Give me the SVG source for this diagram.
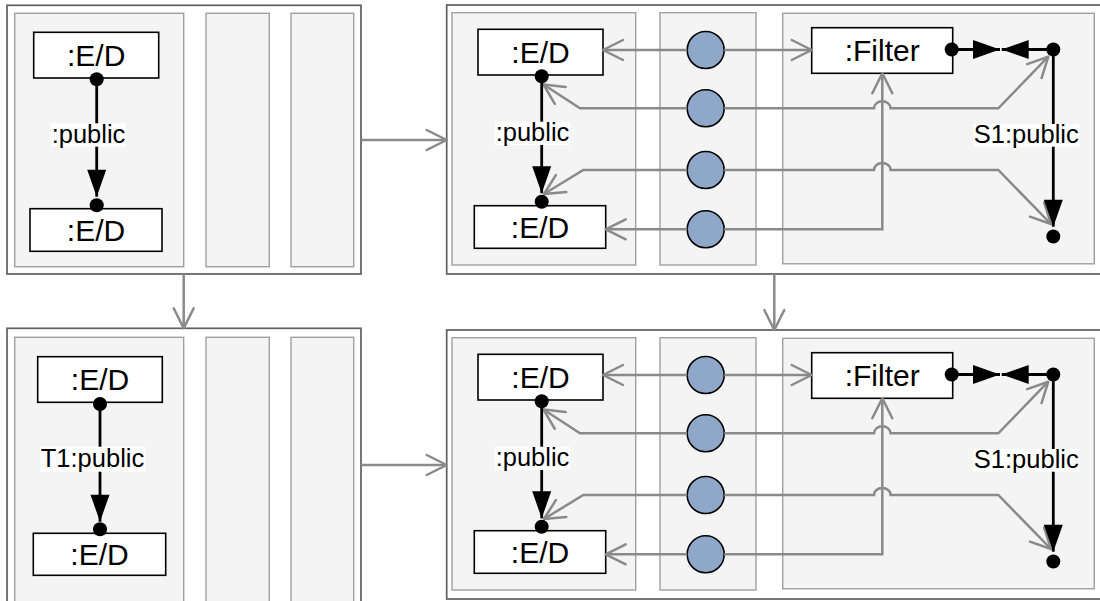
<svg xmlns="http://www.w3.org/2000/svg" width="1100" height="601" viewBox="0 0 1100 601">
<style>
.outer{fill:#ffffff;stroke:#5f5f5f;stroke-width:1.7}
.inner{fill:#f4f4f4;stroke:#a0a0a0;stroke-width:1.4}
.box{fill:#ffffff;stroke:#000000;stroke-width:1.6}
.port{fill:#8fa7c8;stroke:#000000;stroke-width:1.6}
.big{font-family:"Liberation Sans",Arial,Helvetica,sans-serif;font-size:30px;fill:#000;text-anchor:middle}
.lbl{font-family:"Liberation Sans",Arial,Helvetica,sans-serif;font-size:25.5px;fill:#000;text-anchor:middle}
.lblbg{fill:#ffffff}
.grey{fill:none;stroke:#8a8a8a;stroke-width:2.5;marker-end:url(#open)}
.link{fill:none;stroke:#8a8a8a;stroke-width:2.5;marker-end:url(#open)}
.blk{fill:none;stroke:#000000;stroke-width:2.8;marker-end:url(#tri)}
.dot{fill:#000000}
</style>
<defs>
<marker id="open" markerUnits="userSpaceOnUse" markerWidth="30" markerHeight="30" viewBox="-25 -15 30 30" refX="0" refY="0" orient="auto" overflow="visible">
<path d="M-20,-10 L0,0 L-20,10" fill="none" stroke="#8a8a8a" stroke-width="2.5" stroke-linejoin="round" stroke-linecap="round"/>
</marker>
<marker id="tri" markerUnits="userSpaceOnUse" markerWidth="32" markerHeight="24" viewBox="-30 -12 32 24" refX="0" refY="0" orient="auto" overflow="visible">
<path d="M-27,-9.5 L0,0 L-27,9.5 Z" fill="#000000"/>
</marker>
</defs>

<!-- Top-left panel -->
<g id="panel-tl">
<rect class="outer" x="7" y="5.3" width="354" height="268.7"/>
<rect class="inner" x="14.7" y="13.3" width="169" height="253.4"/>
<rect class="inner" x="206" y="13.3" width="63.3" height="253.4"/>
<rect class="inner" x="291" y="13.3" width="62.7" height="253.4"/>
</g>
<g id="tl-ed-top"><rect class="box" x="33.7" y="32.3" width="125" height="45.7"/><text class="big" x="96.2" y="65.8">:E/D</text></g>
<g id="tl-ed-bottom"><rect class="box" x="30" y="208.7" width="132" height="42.6"/><text class="big" x="96" y="240.7">:E/D</text></g>

<!-- Bottom-left panel -->
<g id="panel-bl">
<rect class="outer" x="7" y="328.3" width="354" height="290"/>
<rect class="inner" x="14.7" y="337.3" width="169" height="280"/>
<rect class="inner" x="206" y="337.3" width="63.3" height="280"/>
<rect class="inner" x="291" y="337.3" width="62.7" height="280"/>
</g>
<g id="bl-ed-top"><rect class="box" x="37.7" y="356.7" width="124.6" height="45.6"/><text class="big" x="100" y="390.1">:E/D</text></g>
<g id="bl-ed-bottom"><rect class="box" x="33.3" y="533.3" width="132.4" height="42"/><text class="big" x="99.5" y="565">:E/D</text></g>

<!-- Top-right panel -->
<g id="panel-tr">
<rect class="outer" x="446.7" y="5" width="670" height="269"/>
<rect class="inner" x="452" y="12.7" width="183.7" height="252.3"/>
<rect class="inner" x="660" y="12.7" width="96" height="252.3"/>
<rect class="inner" x="782.7" y="13.3" width="311.6" height="250.5"/>
</g>
<g id="tr-ed-top"><rect class="box" x="478" y="29.3" width="125" height="45.7"/><text class="big" x="540.5" y="62.8">:E/D</text></g>
<g id="tr-ed-bottom"><rect class="box" x="474.3" y="205.7" width="131.4" height="42.6"/><text class="big" x="540" y="237.6">:E/D</text></g>
<g id="tr-filter"><rect class="box" x="811.7" y="27.7" width="141" height="45.6"/><text class="big" x="882.2" y="61">:Filter</text></g>
<g id="tr-port1"><circle class="port" cx="705.7" cy="50" r="18.5"/></g>
<g id="tr-port2"><circle class="port" cx="705.7" cy="108.3" r="18.5"/></g>
<g id="tr-port3"><circle class="port" cx="705.7" cy="170" r="18.5"/></g>
<g id="tr-port4"><circle class="port" cx="705.7" cy="229.3" r="18.5"/></g>

<!-- Bottom-right panel -->
<g id="panel-br">
<rect class="outer" x="446.7" y="330" width="670" height="269"/>
<rect class="inner" x="452" y="337.7" width="183.7" height="252.3"/>
<rect class="inner" x="660" y="337.7" width="96" height="252.3"/>
<rect class="inner" x="782.7" y="338.3" width="311.6" height="250.5"/>
</g>
<g id="br-ed-top"><rect class="box" x="478" y="354.3" width="125" height="45.7"/><text class="big" x="540.5" y="387.8">:E/D</text></g>
<g id="br-ed-bottom"><rect class="box" x="474.3" y="530.7" width="131.4" height="42.6"/><text class="big" x="540" y="562.6">:E/D</text></g>
<g id="br-filter"><rect class="box" x="811.7" y="352.7" width="141" height="45.6"/><text class="big" x="882.2" y="386">:Filter</text></g>
<g id="br-port1"><circle class="port" cx="705.7" cy="375" r="18.5"/></g>
<g id="br-port2"><circle class="port" cx="705.7" cy="433.3" r="18.5"/></g>
<g id="br-port3"><circle class="port" cx="705.7" cy="495" r="18.5"/></g>
<g id="br-port4"><circle class="port" cx="705.7" cy="554.3" r="18.5"/></g>

<g id="connectors">
<!-- panel transitions -->
<path class="link" d="M361,140 L446.7,140"/>
<path class="link" d="M361,465 L446.7,465"/>
<path class="link" d="M183.7,274 L183.7,328.3"/>
<path class="link" d="M774.3,274 L774.3,330"/>

<!-- top-left -->
<path class="blk" d="M96.7,79.3 L96.7,196.7"/>
<circle class="dot" cx="96.7" cy="79.3" r="7"/>
<circle class="dot" cx="96.7" cy="205.3" r="7"/>
<rect class="lblbg" x="51" y="123.3" width="75" height="23.4"/>
<text class="lbl" x="88.5" y="142.6">:public</text>

<!-- bottom-left -->
<path class="blk" d="M100,404 L100,521.7"/>
<circle class="dot" cx="100" cy="404" r="7"/>
<circle class="dot" cx="100" cy="529.3" r="7"/>
<rect class="lblbg" x="40" y="446.7" width="105" height="25"/>
<text class="lbl" x="92.5" y="467.2">T1:public</text>

<!-- top-right -->
<path class="grey" d="M687.2,50 L603,50"/>
<path class="grey" d="M724.2,50 L811.7,50"/>
<path class="grey" d="M687.2,108.3 L580,108.3 L543.5,84.5"/>
<path class="grey" d="M687.2,170 L583.3,170 L544,194"/>
<path class="grey" d="M687.2,229.3 L605.7,229.3"/>
<path class="grey" d="M724.2,108.3 L874,108.3 A8.3,7 0 0 1 890.6,108.3 L998.3,108.3 L1048.3,56.7"/>
<path class="grey" d="M724.2,170 L874,170 A8.3,7 0 0 1 890.6,170 L998.3,170 L1051,224"/>
<path class="grey" d="M724.2,229.3 L882.3,229.3 L882.3,73.3"/>
<path class="blk" d="M541.7,76.3 L541.7,193.3"/>
<circle class="dot" cx="541.7" cy="76.3" r="7"/>
<circle class="dot" cx="541.7" cy="201.7" r="7"/>
<rect class="lblbg" x="495" y="121.7" width="75" height="23.3"/>
<text class="lbl" x="532.5" y="141.1">:public</text>
<path class="blk" d="M951.7,49.5 L1000,49.5"/>
<path class="blk" d="M1053.3,49.5 L1001.7,49.5"/>
<path class="blk" d="M1053.3,49.5 L1053.3,226.7"/>
<circle class="dot" cx="951.7" cy="49.5" r="7"/>
<circle class="dot" cx="1053.3" cy="49.5" r="7"/>
<circle class="dot" cx="1053.3" cy="236.5" r="7"/>
<rect class="lblbg" x="973.3" y="124" width="106" height="22.7"/>
<text class="lbl" x="1026.3" y="143.2">S1:public</text>

<!-- bottom-right -->
<path class="grey" d="M687.2,375 L603,375"/>
<path class="grey" d="M724.2,375 L811.7,375"/>
<path class="grey" d="M687.2,433.3 L580,433.3 L543.5,409.5"/>
<path class="grey" d="M687.2,495 L583.3,495 L544,519"/>
<path class="grey" d="M687.2,554.3 L605.7,554.3"/>
<path class="grey" d="M724.2,433.3 L874,433.3 A8.3,7 0 0 1 890.6,433.3 L998.3,433.3 L1048.3,381.7"/>
<path class="grey" d="M724.2,495 L874,495 A8.3,7 0 0 1 890.6,495 L998.3,495 L1051,549"/>
<path class="grey" d="M724.2,554.3 L882.3,554.3 L882.3,398.3"/>
<path class="blk" d="M541.7,401.3 L541.7,518.3"/>
<circle class="dot" cx="541.7" cy="401.3" r="7"/>
<circle class="dot" cx="541.7" cy="526.7" r="7"/>
<rect class="lblbg" x="495" y="446.7" width="75" height="23.3"/>
<text class="lbl" x="532.5" y="466.1">:public</text>
<path class="blk" d="M951.7,374.5 L1000,374.5"/>
<path class="blk" d="M1053.3,374.5 L1001.7,374.5"/>
<path class="blk" d="M1053.3,374.5 L1053.3,551.7"/>
<circle class="dot" cx="951.7" cy="374.5" r="7"/>
<circle class="dot" cx="1053.3" cy="374.5" r="7"/>
<circle class="dot" cx="1053.3" cy="561.5" r="7"/>
<rect class="lblbg" x="973.3" y="449" width="106" height="22.7"/>
<text class="lbl" x="1026.3" y="468.2">S1:public</text>
</g>
</svg>
